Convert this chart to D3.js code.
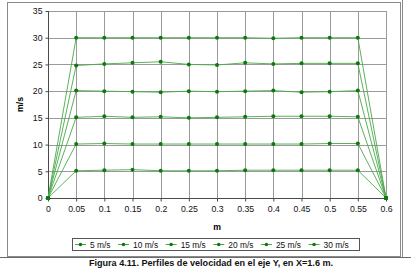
<!DOCTYPE html>
<html>
<head>
<meta charset="utf-8">
<script src="https://cdn.jsdelivr.net/npm/d3@7"></script>
<style>
  body { margin: 0; background: #fff; }
  svg { display: block; font-family: "Liberation Sans", Arial, sans-serif; }
</style>
</head>
<body>
<svg id="chart" width="411" height="269"></svg>
<script>
// x positions along the Y axis (m)
const xVals = [0, 0.05, 0.1, 0.15, 0.2, 0.25, 0.3, 0.35, 0.4, 0.45, 0.5, 0.55, 0.6];
const seriesNames = ['5 m/s', '10 m/s', '15 m/s', '20 m/s', '25 m/s', '30 m/s'];
const v5  = [0, 5.1, 5.2, 5.3, 5.1, 5.1, 5.1, 5.2, 5.2, 5.2, 5.2, 5.2, 0];
const v10 = [0, 10.1, 10.2, 10.1, 10.1, 10.1, 10.1, 10.1, 10.1, 10.1, 10.2, 10.2, 0];
const v15 = [0, 15.1, 15.3, 15.1, 15.2, 15.0, 15.1, 15.2, 15.3, 15.3, 15.3, 15.2, 0];
const v20 = [0, 20.1, 20.0, 19.9, 19.8, 20.0, 19.9, 20.0, 20.1, 19.8, 19.9, 20.1, 0];
const v25 = [0, 24.8, 25.1, 25.3, 25.5, 25.0, 24.9, 25.3, 25.1, 25.2, 25.2, 25.2, 0];
const v30 = [0, 30.0, 30.0, 30.0, 30.0, 30.0, 30.0, 30.0, 29.9, 30.0, 30.0, 30.0, 0];
const seriesValues = [v5, v10, v15, v20, v25, v30];
const xTicks = [0, 0.05, 0.1, 0.15, 0.2, 0.25, 0.3, 0.35, 0.4, 0.45, 0.5, 0.55, 0.6];
const yTicks = [0, 5, 10, 15, 20, 25, 30, 35];
const caption = 'Figura 4.11. Perfiles de velocidad en el eje Y, en X=1.6 m.';

const svg = d3.select('#chart');
const plot = {left: 48, top: 11, right: 386, bottom: 198};
const lineColor = '#4aa84a', dotColor = '#0b7a0b', gridColor = '#9a9a9a';

// frame + page rules
svg.append('rect').attr('x', 7.5).attr('y', 2.5).attr('width', 393).attr('height', 254)
  .attr('fill', 'none').attr('stroke', '#8a8a8a');
svg.append('line').attr('x1', 402.5).attr('x2', 402.5).attr('y1', 0).attr('y2', 257)
  .attr('stroke', '#8a8a8a');
svg.append('line').attr('x1', 0).attr('x2', 411).attr('y1', 257.5).attr('y2', 257.5)
  .attr('stroke', '#6a6a6a');

const x = d3.scaleLinear().domain([0, 0.6]).range([plot.left, plot.right]);
const y = d3.scaleLinear().domain([0, 35]).range([plot.bottom, plot.top]);

// grid
const grid = svg.append('g').attr('stroke', gridColor).attr('stroke-width', 1);
grid.selectAll('.gx').data(xTicks.slice(1)).join('line')
  .attr('x1', d => Math.round(x(d)) + 0.5).attr('x2', d => Math.round(x(d)) + 0.5)
  .attr('y1', plot.top).attr('y2', plot.bottom);
grid.selectAll('.gy').data(yTicks.slice(1)).join('line')
  .attr('y1', d => Math.round(y(d)) + 0.5).attr('y2', d => Math.round(y(d)) + 0.5)
  .attr('x1', plot.left).attr('x2', plot.right);

// axes
const xAxis = svg.append('g')
  .attr('transform', `translate(0,${plot.bottom + 0.5})`)
  .call(d3.axisBottom(x).tickValues(xTicks).tickFormat(d3.format('')).tickSize(3).tickPadding(4));
const yAxis = svg.append('g')
  .attr('transform', `translate(${plot.left + 0.5},0)`)
  .call(d3.axisLeft(y).tickValues(yTicks).tickSize(3).tickPadding(3));
[xAxis, yAxis].forEach(a => {
  a.selectAll('path,line').attr('stroke', '#4a4a4a');
  a.select('.domain').attr('d', a === xAxis ? `M${plot.left},0H${plot.right}` : `M0,${plot.bottom}V${plot.top}`);
  a.selectAll('text').attr('font-size', 8.7).attr('fill', '#111').attr('font-family', '"Liberation Sans", Arial, sans-serif');
});

// axis titles
svg.append('text').attr('x', (plot.left + plot.right) / 2).attr('y', 230)
  .attr('text-anchor', 'middle').attr('font-size', 8.7).attr('font-weight', 'bold').text('m');
svg.append('text').attr('transform', `translate(23,${(plot.top + plot.bottom) / 2}) rotate(-90)`)
  .attr('text-anchor', 'middle').attr('font-size', 8.7).attr('font-weight', 'bold').text('m/s');

// series
const line = d3.line().x((d, i) => x(xVals[i])).y(d => y(d));
const series = svg.append('g').selectAll('g').data(seriesValues).join('g');
series.append('path').attr('d', d => line(d)).attr('fill', 'none')
  .attr('stroke', lineColor).attr('stroke-width', 0.9);
series.selectAll('circle').data(d => d).join('circle')
  .attr('cx', (d, i) => x(xVals[i])).attr('cy', d => y(d)).attr('r', 2)
  .attr('fill', dotColor);

// legend
const legend = svg.append('g');
legend.append('rect').attr('x', 72.5).attr('y', 238.5).attr('width', 287).attr('height', 12)
  .attr('fill', '#fff').attr('stroke', '#555');
let lx = 75;
seriesNames.forEach(name => {
  const g = legend.append('g');
  g.append('line').attr('x1', lx).attr('x2', lx + 11).attr('y1', 244.5).attr('y2', 244.5)
    .attr('stroke', lineColor);
  g.append('circle').attr('cx', lx + 5.5).attr('cy', 244.5).attr('r', 1.8).attr('fill', dotColor);
  const t = g.append('text').attr('x', lx + 15).attr('y', 247.5).attr('font-size', 8.4)
    .attr('fill', '#111').text(name);
  lx += 15 + t.node().getComputedTextLength() + 7.5;
});

// caption
svg.append('text').attr('x', 211).attr('y', 266).attr('text-anchor', 'middle')
  .attr('font-size', 9.1).attr('font-weight', 'bold').attr('fill', '#111').text(caption);
</script>
</body>
</html>
